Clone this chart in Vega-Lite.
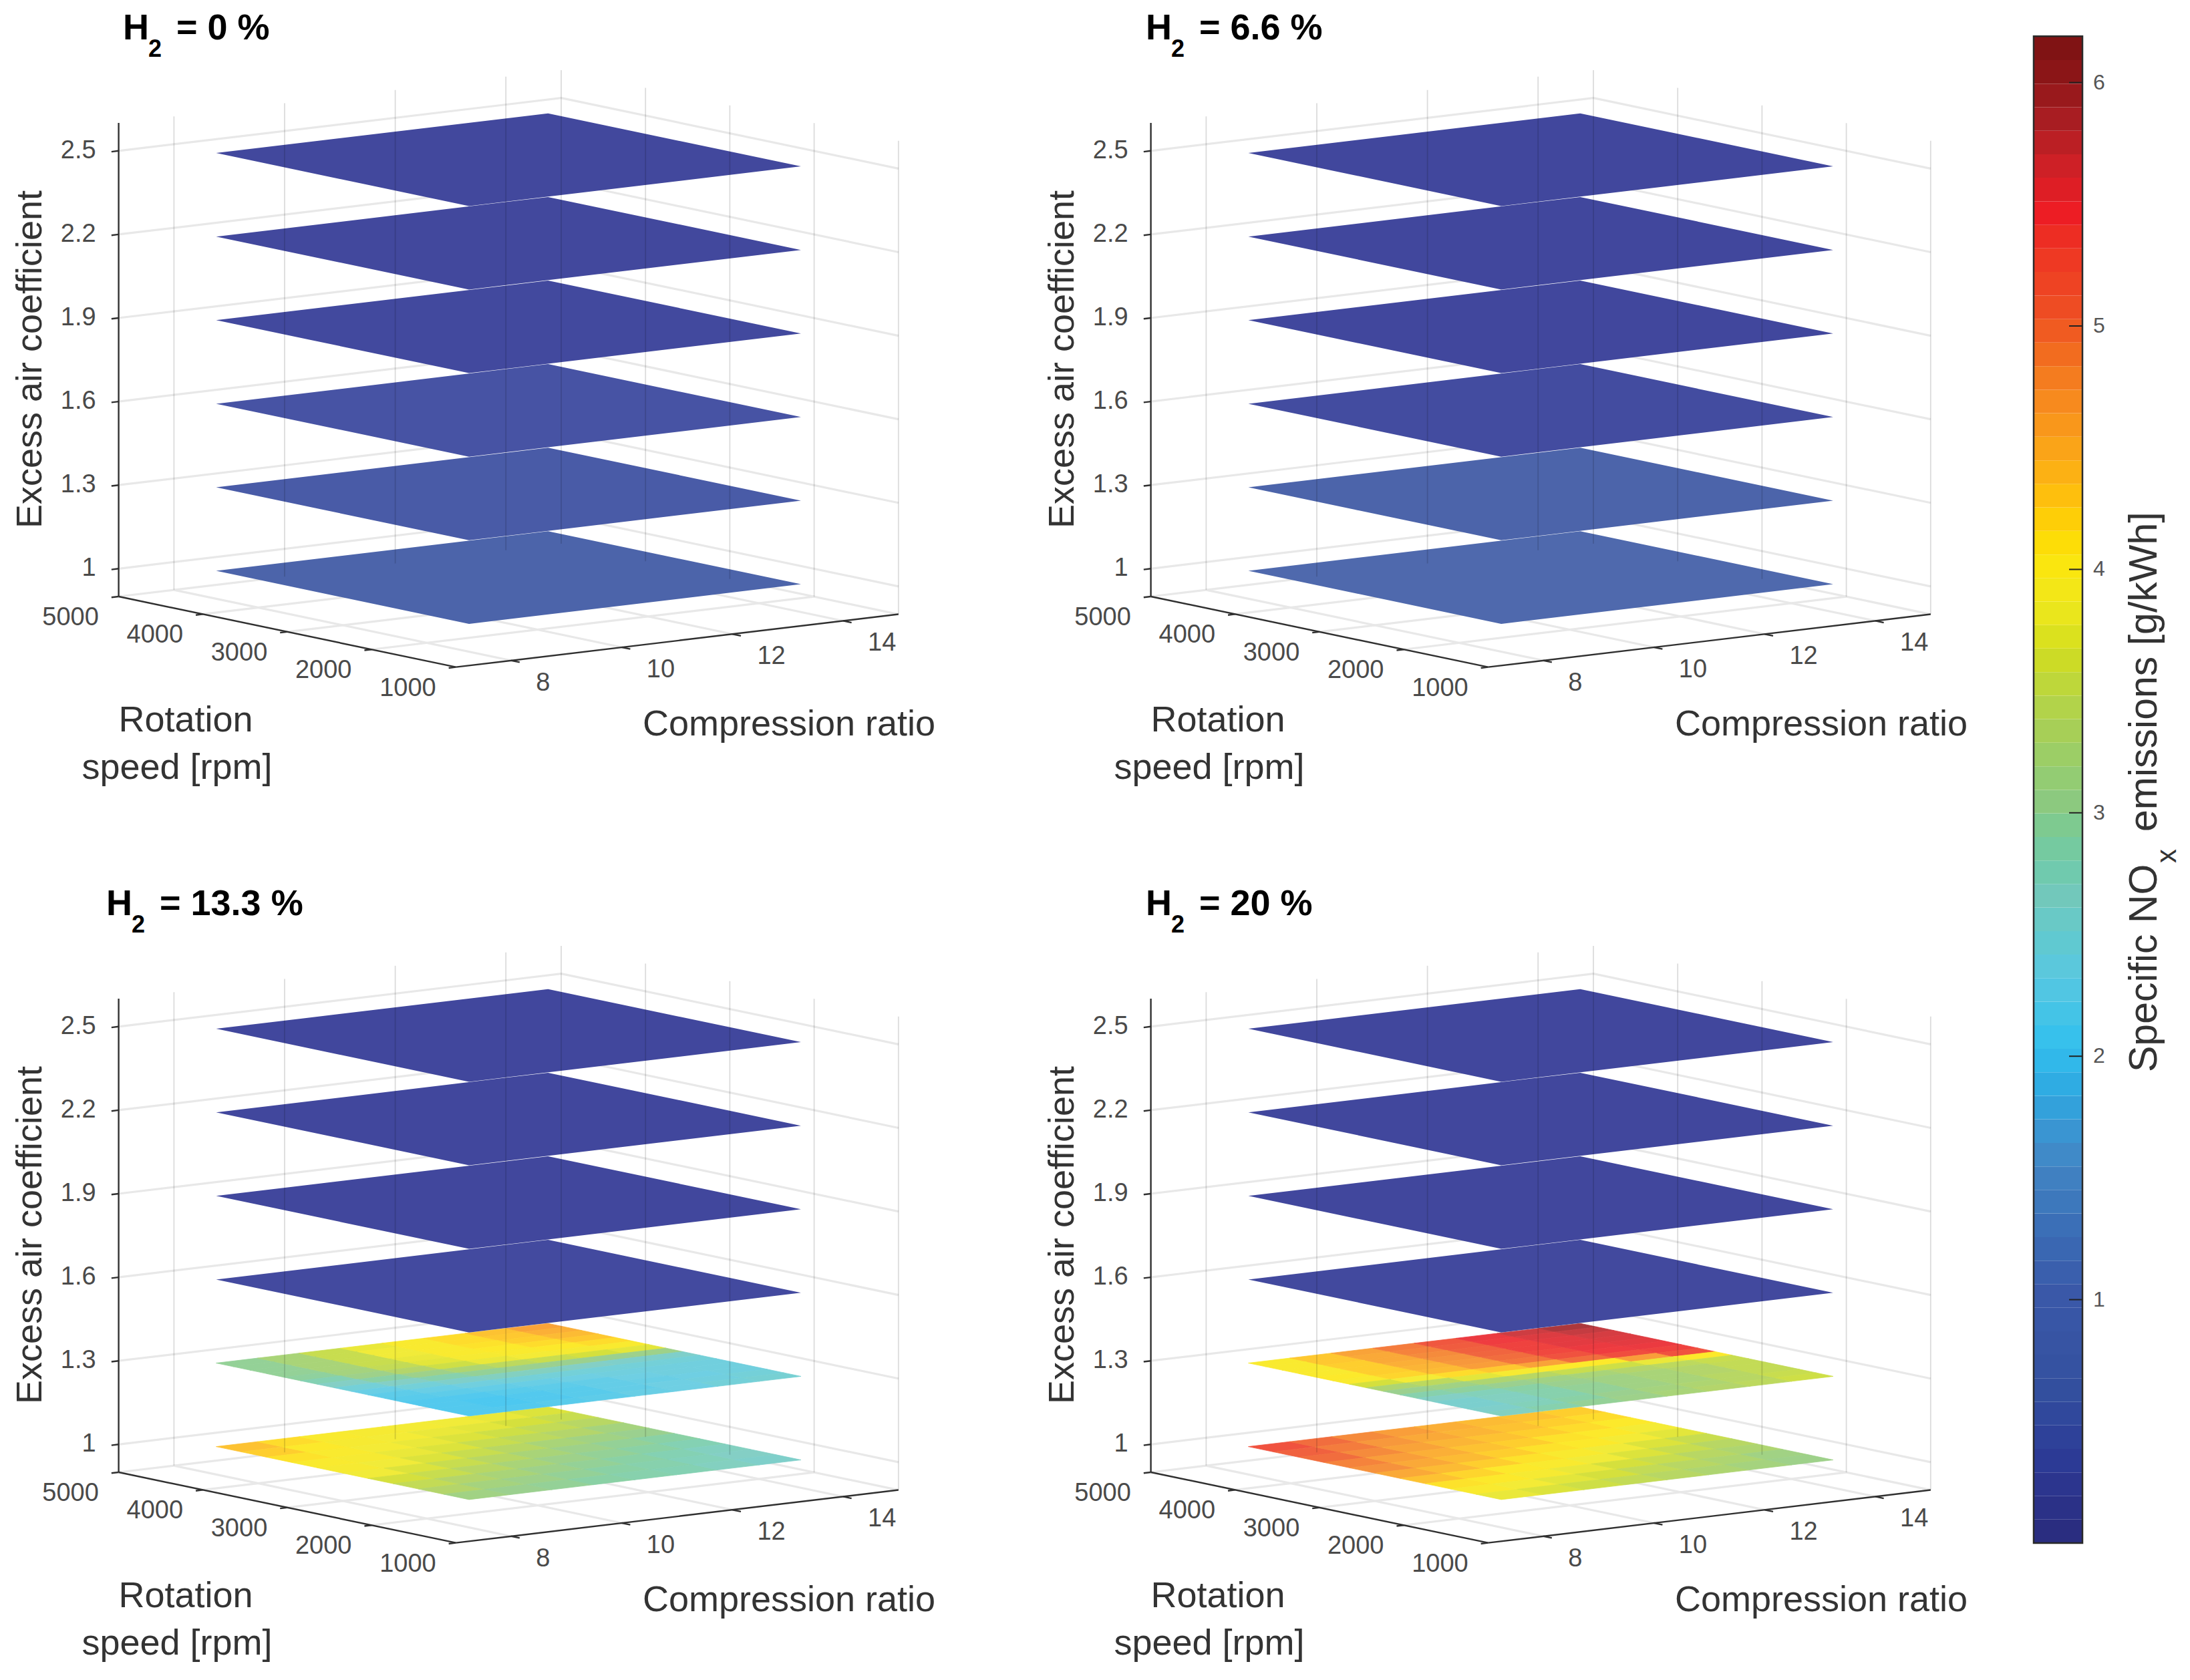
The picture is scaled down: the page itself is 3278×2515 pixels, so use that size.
{
"$schema":"https://vega.github.io/schema/vega-lite/v6.json",
"width":3278,"height":2515,"padding":0,"autosize":{"type":"fit","contains":"padding"},
"background":"white","config":{"view":{"stroke":null},"text":{"font":"Liberation Sans"}},
"datasets":{
"thick":[
{"h":[0,6.6,13.3,20],"c":7,"r":5000,"l":1,"c2":15,"r2":5000,"l2":1},
{"h":[0,6.6,13.3,20],"c":7,"r":5000,"l":1.3,"c2":15,"r2":5000,"l2":1.3},
{"h":[0,6.6,13.3,20],"c":7,"r":5000,"l":1.6,"c2":15,"r2":5000,"l2":1.6},
{"h":[0,6.6,13.3,20],"c":7,"r":5000,"l":1.9,"c2":15,"r2":5000,"l2":1.9},
{"h":[0,6.6,13.3,20],"c":7,"r":5000,"l":2.2,"c2":15,"r2":5000,"l2":2.2},
{"h":[0,6.6,13.3,20],"c":7,"r":5000,"l":2.5,"c2":15,"r2":5000,"l2":2.5},
{"h":[0,6.6,13.3,20],"c":15,"r":5000,"l":1,"c2":15,"r2":1000,"l2":1},
{"h":[0,6.6,13.3,20],"c":15,"r":5000,"l":1.3,"c2":15,"r2":1000,"l2":1.3},
{"h":[0,6.6,13.3,20],"c":15,"r":5000,"l":1.6,"c2":15,"r2":1000,"l2":1.6},
{"h":[0,6.6,13.3,20],"c":15,"r":5000,"l":1.9,"c2":15,"r2":1000,"l2":1.9},
{"h":[0,6.6,13.3,20],"c":15,"r":5000,"l":2.2,"c2":15,"r2":1000,"l2":2.2},
{"h":[0,6.6,13.3,20],"c":15,"r":5000,"l":2.5,"c2":15,"r2":1000,"l2":2.5},
{"h":[0,6.6,13.3,20],"c":7,"r":5000,"l":0.9,"c2":15,"r2":5000,"l2":0.9},
{"h":[0,6.6,13.3,20],"c":7,"r":4000,"l":0.9,"c2":15,"r2":4000,"l2":0.9},
{"h":[0,6.6,13.3,20],"c":7,"r":3000,"l":0.9,"c2":15,"r2":3000,"l2":0.9},
{"h":[0,6.6,13.3,20],"c":7,"r":2000,"l":0.9,"c2":15,"r2":2000,"l2":0.9},
{"h":[0,6.6,13.3,20],"c":8,"r":5000,"l":0.9,"c2":8,"r2":1000,"l2":0.9},
{"h":[0,6.6,13.3,20],"c":10,"r":5000,"l":0.9,"c2":10,"r2":1000,"l2":0.9},
{"h":[0,6.6,13.3,20],"c":12,"r":5000,"l":0.9,"c2":12,"r2":1000,"l2":0.9},
{"h":[0,6.6,13.3,20],"c":14,"r":5000,"l":0.9,"c2":14,"r2":1000,"l2":0.9},
{"h":[0,6.6,13.3,20],"c":15,"r":5000,"l":0.9,"c2":15,"r2":1000,"l2":0.9}
],
"thin":[
{"h":[0,6.6,13.3,20],"c":8,"r":5000,"l":0.9,"c2":8,"r2":5000,"l2":2.6},
{"h":[0,6.6,13.3,20],"c":10,"r":5000,"l":0.9,"c2":10,"r2":5000,"l2":2.6},
{"h":[0,6.6,13.3,20],"c":12,"r":5000,"l":0.9,"c2":12,"r2":5000,"l2":2.6},
{"h":[0,6.6,13.3,20],"c":14,"r":5000,"l":0.9,"c2":14,"r2":5000,"l2":2.6},
{"h":[0,6.6,13.3,20],"c":15,"r":5000,"l":0.9,"c2":15,"r2":5000,"l2":2.6},
{"h":[0,6.6,13.3,20],"c":15,"r":4000,"l":0.9,"c2":15,"r2":4000,"l2":2.6},
{"h":[0,6.6,13.3,20],"c":15,"r":3000,"l":0.9,"c2":15,"r2":3000,"l2":2.6},
{"h":[0,6.6,13.3,20],"c":15,"r":2000,"l":0.9,"c2":15,"r2":2000,"l2":2.6},
{"h":[0,6.6,13.3,20],"c":15,"r":1000,"l":0.9,"c2":15,"r2":1000,"l2":2.6}
],
"dark":[
{"h":[0,6.6,13.3,20],"c":7,"r":5000,"l":0.9,"c2":7,"r2":5000,"l2":2.6},
{"h":[0,6.6,13.3,20],"c":7,"r":5000,"l":0.9,"c2":7,"r2":1000,"l2":0.9},
{"h":[0,6.6,13.3,20],"c":7,"r":1000,"l":0.9,"c2":15,"r2":1000,"l2":0.9},
{"h":[0,6.6,13.3,20],"c":7,"r":5000,"l":1,"c2":6.87,"r2":5000,"l2":1},
{"h":[0,6.6,13.3,20],"c":7,"r":5000,"l":1.3,"c2":6.87,"r2":5000,"l2":1.3},
{"h":[0,6.6,13.3,20],"c":7,"r":5000,"l":1.6,"c2":6.87,"r2":5000,"l2":1.6},
{"h":[0,6.6,13.3,20],"c":7,"r":5000,"l":1.9,"c2":6.87,"r2":5000,"l2":1.9},
{"h":[0,6.6,13.3,20],"c":7,"r":5000,"l":2.2,"c2":6.87,"r2":5000,"l2":2.2},
{"h":[0,6.6,13.3,20],"c":7,"r":5000,"l":2.5,"c2":6.87,"r2":5000,"l2":2.5},
{"h":[0,6.6,13.3,20],"c":7,"r":5000,"l":0.9,"c2":6.87,"r2":5000,"l2":0.9},
{"h":[0,6.6,13.3,20],"c":7,"r":4000,"l":0.9,"c2":6.87,"r2":4000,"l2":0.9},
{"h":[0,6.6,13.3,20],"c":7,"r":3000,"l":0.9,"c2":6.87,"r2":3000,"l2":0.9},
{"h":[0,6.6,13.3,20],"c":7,"r":2000,"l":0.9,"c2":6.87,"r2":2000,"l2":0.9},
{"h":[0,6.6,13.3,20],"c":7,"r":1000,"l":0.9,"c2":6.87,"r2":1000,"l2":0.9},
{"h":[0,6.6,13.3,20],"c":8,"r":1000,"l":0.9,"c2":8,"r2":900,"l2":0.9},
{"h":[0,6.6,13.3,20],"c":10,"r":1000,"l":0.9,"c2":10,"r2":900,"l2":0.9},
{"h":[0,6.6,13.3,20],"c":12,"r":1000,"l":0.9,"c2":12,"r2":900,"l2":0.9},
{"h":[0,6.6,13.3,20],"c":14,"r":1000,"l":0.9,"c2":14,"r2":900,"l2":0.9}
],
"flat":[
{"h":0,"l":1,"c":11,"r":3000,"n":0.55},{"h":0,"l":1.3,"c":11,"r":3000,"n":0.42},{"h":0,"l":1.6,"c":11,"r":3000,"n":0.3},{"h":0,"l":1.9,"c":11,"r":3000,"n":0.1},{"h":0,"l":2.2,"c":11,"r":3000,"n":0.08},{"h":0,"l":2.5,"c":11,"r":3000,"n":0.08},
{"h":6.6,"l":1,"c":11,"r":3000,"n":0.7},{"h":6.6,"l":1.3,"c":11,"r":3000,"n":0.55},{"h":6.6,"l":1.6,"c":11,"r":3000,"n":0.15},{"h":6.6,"l":1.9,"c":11,"r":3000,"n":0.06},{"h":6.6,"l":2.2,"c":11,"r":3000,"n":0.06},{"h":6.6,"l":2.5,"c":11,"r":3000,"n":0.06},
{"h":13.3,"l":1.6,"c":11,"r":3000,"n":0.12},{"h":13.3,"l":1.9,"c":11,"r":3000,"n":0.06},{"h":13.3,"l":2.2,"c":11,"r":3000,"n":0.05},{"h":13.3,"l":2.5,"c":11,"r":3000,"n":0.05},
{"h":20,"l":1.6,"c":11,"r":3000,"n":0.1},{"h":20,"l":1.9,"c":11,"r":3000,"n":0.05},{"h":20,"l":2.2,"c":11,"r":3000,"n":0.05},{"h":20,"l":2.5,"c":11,"r":3000,"n":0.05}
],
"lean":[
{"h":13.3,"l":1.3,"c":8.375,"r":4400,"n":2.95},{"h":13.3,"l":1.3,"c":9.125,"r":4400,"n":3.2},{"h":13.3,"l":1.3,"c":9.875,"r":4400,"n":3.5},{"h":13.3,"l":1.3,"c":10.625,"r":4400,"n":3.75},{"h":13.3,"l":1.3,"c":11.375,"r":4400,"n":3.95},{"h":13.3,"l":1.3,"c":12.125,"r":4400,"n":4.1},{"h":13.3,"l":1.3,"c":12.875,"r":4400,"n":4.3},{"h":13.3,"l":1.3,"c":13.625,"r":4400,"n":4.55},
{"h":13.3,"l":1.3,"c":8.375,"r":4200,"n":2.95},{"h":13.3,"l":1.3,"c":9.125,"r":4200,"n":3.2},{"h":13.3,"l":1.3,"c":9.875,"r":4200,"n":3.5},{"h":13.3,"l":1.3,"c":10.625,"r":4200,"n":3.8},{"h":13.3,"l":1.3,"c":11.375,"r":4200,"n":3.95},{"h":13.3,"l":1.3,"c":12.125,"r":4200,"n":4.1},{"h":13.3,"l":1.3,"c":12.875,"r":4200,"n":4.25},{"h":13.3,"l":1.3,"c":13.625,"r":4200,"n":4.45},
{"h":13.3,"l":1.3,"c":8.375,"r":4000,"n":2.95},{"h":13.3,"l":1.3,"c":9.125,"r":4000,"n":3.2},{"h":13.3,"l":1.3,"c":9.875,"r":4000,"n":3.5},{"h":13.3,"l":1.3,"c":10.625,"r":4000,"n":3.8},{"h":13.3,"l":1.3,"c":11.375,"r":4000,"n":3.95},{"h":13.3,"l":1.3,"c":12.125,"r":4000,"n":4.05},{"h":13.3,"l":1.3,"c":12.875,"r":4000,"n":4.2},{"h":13.3,"l":1.3,"c":13.625,"r":4000,"n":4.35},
{"h":13.3,"l":1.3,"c":8.375,"r":3800,"n":2.95},{"h":13.3,"l":1.3,"c":9.125,"r":3800,"n":3.2},{"h":13.3,"l":1.3,"c":9.875,"r":3800,"n":3.5},{"h":13.3,"l":1.3,"c":10.625,"r":3800,"n":3.75},{"h":13.3,"l":1.3,"c":11.375,"r":3800,"n":3.95},{"h":13.3,"l":1.3,"c":12.125,"r":3800,"n":4},{"h":13.3,"l":1.3,"c":12.875,"r":3800,"n":4.1},{"h":13.3,"l":1.3,"c":13.625,"r":3800,"n":4.25},
{"h":13.3,"l":1.3,"c":8.375,"r":3600,"n":2.9},{"h":13.3,"l":1.3,"c":9.125,"r":3600,"n":3.15},{"h":13.3,"l":1.3,"c":9.875,"r":3600,"n":3.45},{"h":13.3,"l":1.3,"c":10.625,"r":3600,"n":3.7},{"h":13.3,"l":1.3,"c":11.375,"r":3600,"n":3.9},{"h":13.3,"l":1.3,"c":12.125,"r":3600,"n":3.95},{"h":13.3,"l":1.3,"c":12.875,"r":3600,"n":4},{"h":13.3,"l":1.3,"c":13.625,"r":3600,"n":4.1},
{"h":13.3,"l":1.3,"c":8.375,"r":3400,"n":2.75},{"h":13.3,"l":1.3,"c":9.125,"r":3400,"n":3.05},{"h":13.3,"l":1.3,"c":9.875,"r":3400,"n":3.3},{"h":13.3,"l":1.3,"c":10.625,"r":3400,"n":3.55},{"h":13.3,"l":1.3,"c":11.375,"r":3400,"n":3.75},{"h":13.3,"l":1.3,"c":12.125,"r":3400,"n":3.85},{"h":13.3,"l":1.3,"c":12.875,"r":3400,"n":3.9},{"h":13.3,"l":1.3,"c":13.625,"r":3400,"n":3.95},
{"h":13.3,"l":1.3,"c":8.375,"r":3200,"n":2.6},{"h":13.3,"l":1.3,"c":9.125,"r":3200,"n":2.85},{"h":13.3,"l":1.3,"c":9.875,"r":3200,"n":3.05},{"h":13.3,"l":1.3,"c":10.625,"r":3200,"n":3.25},{"h":13.3,"l":1.3,"c":11.375,"r":3200,"n":3.4},{"h":13.3,"l":1.3,"c":12.125,"r":3200,"n":3.5},{"h":13.3,"l":1.3,"c":12.875,"r":3200,"n":3.6},{"h":13.3,"l":1.3,"c":13.625,"r":3200,"n":3.7},
{"h":13.3,"l":1.3,"c":8.375,"r":3000,"n":2.4},{"h":13.3,"l":1.3,"c":9.125,"r":3000,"n":2.6},{"h":13.3,"l":1.3,"c":9.875,"r":3000,"n":2.8},{"h":13.3,"l":1.3,"c":10.625,"r":3000,"n":2.95},{"h":13.3,"l":1.3,"c":11.375,"r":3000,"n":3},{"h":13.3,"l":1.3,"c":12.125,"r":3000,"n":3},{"h":13.3,"l":1.3,"c":12.875,"r":3000,"n":3},{"h":13.3,"l":1.3,"c":13.625,"r":3000,"n":3.05},
{"h":13.3,"l":1.3,"c":8.375,"r":2800,"n":2.25},{"h":13.3,"l":1.3,"c":9.125,"r":2800,"n":2.4},{"h":13.3,"l":1.3,"c":9.875,"r":2800,"n":2.55},{"h":13.3,"l":1.3,"c":10.625,"r":2800,"n":2.65},{"h":13.3,"l":1.3,"c":11.375,"r":2800,"n":2.65},{"h":13.3,"l":1.3,"c":12.125,"r":2800,"n":2.6},{"h":13.3,"l":1.3,"c":12.875,"r":2800,"n":2.55},{"h":13.3,"l":1.3,"c":13.625,"r":2800,"n":2.55},
{"h":13.3,"l":1.3,"c":8.375,"r":2600,"n":2.15},{"h":13.3,"l":1.3,"c":9.125,"r":2600,"n":2.25},{"h":13.3,"l":1.3,"c":9.875,"r":2600,"n":2.35},{"h":13.3,"l":1.3,"c":10.625,"r":2600,"n":2.4},{"h":13.3,"l":1.3,"c":11.375,"r":2600,"n":2.4},{"h":13.3,"l":1.3,"c":12.125,"r":2600,"n":2.4},{"h":13.3,"l":1.3,"c":12.875,"r":2600,"n":2.4},{"h":13.3,"l":1.3,"c":13.625,"r":2600,"n":2.4},
{"h":13.3,"l":1.3,"c":8.375,"r":2400,"n":2.1},{"h":13.3,"l":1.3,"c":9.125,"r":2400,"n":2.15},{"h":13.3,"l":1.3,"c":9.875,"r":2400,"n":2.2},{"h":13.3,"l":1.3,"c":10.625,"r":2400,"n":2.25},{"h":13.3,"l":1.3,"c":11.375,"r":2400,"n":2.3},{"h":13.3,"l":1.3,"c":12.125,"r":2400,"n":2.35},{"h":13.3,"l":1.3,"c":12.875,"r":2400,"n":2.35},{"h":13.3,"l":1.3,"c":13.625,"r":2400,"n":2.35},
{"h":13.3,"l":1.3,"c":8.375,"r":2200,"n":2.05},{"h":13.3,"l":1.3,"c":9.125,"r":2200,"n":2.05},{"h":13.3,"l":1.3,"c":9.875,"r":2200,"n":2.1},{"h":13.3,"l":1.3,"c":10.625,"r":2200,"n":2.15},{"h":13.3,"l":1.3,"c":11.375,"r":2200,"n":2.2},{"h":13.3,"l":1.3,"c":12.125,"r":2200,"n":2.3},{"h":13.3,"l":1.3,"c":12.875,"r":2200,"n":2.35},{"h":13.3,"l":1.3,"c":13.625,"r":2200,"n":2.35},
{"h":13.3,"l":1.3,"c":8.375,"r":2000,"n":2.05},{"h":13.3,"l":1.3,"c":9.125,"r":2000,"n":2},{"h":13.3,"l":1.3,"c":9.875,"r":2000,"n":2.05},{"h":13.3,"l":1.3,"c":10.625,"r":2000,"n":2.1},{"h":13.3,"l":1.3,"c":11.375,"r":2000,"n":2.2},{"h":13.3,"l":1.3,"c":12.125,"r":2000,"n":2.25},{"h":13.3,"l":1.3,"c":12.875,"r":2000,"n":2.3},{"h":13.3,"l":1.3,"c":13.625,"r":2000,"n":2.35},
{"h":13.3,"l":1.3,"c":8.375,"r":1800,"n":2.05},{"h":13.3,"l":1.3,"c":9.125,"r":1800,"n":2},{"h":13.3,"l":1.3,"c":9.875,"r":1800,"n":2.05},{"h":13.3,"l":1.3,"c":10.625,"r":1800,"n":2.1},{"h":13.3,"l":1.3,"c":11.375,"r":1800,"n":2.2},{"h":13.3,"l":1.3,"c":12.125,"r":1800,"n":2.3},{"h":13.3,"l":1.3,"c":12.875,"r":1800,"n":2.35},{"h":13.3,"l":1.3,"c":13.625,"r":1800,"n":2.4},
{"h":13.3,"l":1.3,"c":8.375,"r":1600,"n":2.05},{"h":13.3,"l":1.3,"c":9.125,"r":1600,"n":2.05},{"h":13.3,"l":1.3,"c":9.875,"r":1600,"n":2.1},{"h":13.3,"l":1.3,"c":10.625,"r":1600,"n":2.15},{"h":13.3,"l":1.3,"c":11.375,"r":1600,"n":2.25},{"h":13.3,"l":1.3,"c":12.125,"r":1600,"n":2.3},{"h":13.3,"l":1.3,"c":12.875,"r":1600,"n":2.4},{"h":13.3,"l":1.3,"c":13.625,"r":1600,"n":2.45},
{"h":20,"l":1.3,"c":8.375,"r":4400,"n":3.95},{"h":20,"l":1.3,"c":9.125,"r":4400,"n":4.25},{"h":20,"l":1.3,"c":9.875,"r":4400,"n":4.55},{"h":20,"l":1.3,"c":10.625,"r":4400,"n":4.85},{"h":20,"l":1.3,"c":11.375,"r":4400,"n":5.15},{"h":20,"l":1.3,"c":12.125,"r":4400,"n":5.45},{"h":20,"l":1.3,"c":12.875,"r":4400,"n":5.65},{"h":20,"l":1.3,"c":13.625,"r":4400,"n":5.85},
{"h":20,"l":1.3,"c":8.375,"r":4200,"n":3.95},{"h":20,"l":1.3,"c":9.125,"r":4200,"n":4.25},{"h":20,"l":1.3,"c":9.875,"r":4200,"n":4.5},{"h":20,"l":1.3,"c":10.625,"r":4200,"n":4.8},{"h":20,"l":1.3,"c":11.375,"r":4200,"n":5.1},{"h":20,"l":1.3,"c":12.125,"r":4200,"n":5.4},{"h":20,"l":1.3,"c":12.875,"r":4200,"n":5.55},{"h":20,"l":1.3,"c":13.625,"r":4200,"n":5.7},
{"h":20,"l":1.3,"c":8.375,"r":4000,"n":3.95},{"h":20,"l":1.3,"c":9.125,"r":4000,"n":4.2},{"h":20,"l":1.3,"c":9.875,"r":4000,"n":4.5},{"h":20,"l":1.3,"c":10.625,"r":4000,"n":4.75},{"h":20,"l":1.3,"c":11.375,"r":4000,"n":5.05},{"h":20,"l":1.3,"c":12.125,"r":4000,"n":5.35},{"h":20,"l":1.3,"c":12.875,"r":4000,"n":5.5},{"h":20,"l":1.3,"c":13.625,"r":4000,"n":5.6},
{"h":20,"l":1.3,"c":8.375,"r":3800,"n":3.95},{"h":20,"l":1.3,"c":9.125,"r":3800,"n":4.2},{"h":20,"l":1.3,"c":9.875,"r":3800,"n":4.45},{"h":20,"l":1.3,"c":10.625,"r":3800,"n":4.7},{"h":20,"l":1.3,"c":11.375,"r":3800,"n":5},{"h":20,"l":1.3,"c":12.125,"r":3800,"n":5.35},{"h":20,"l":1.3,"c":12.875,"r":3800,"n":5.5},{"h":20,"l":1.3,"c":13.625,"r":3800,"n":5.55},
{"h":20,"l":1.3,"c":8.375,"r":3600,"n":4},{"h":20,"l":1.3,"c":9.125,"r":3600,"n":4.2},{"h":20,"l":1.3,"c":9.875,"r":3600,"n":4.4},{"h":20,"l":1.3,"c":10.625,"r":3600,"n":4.65},{"h":20,"l":1.3,"c":11.375,"r":3600,"n":4.95},{"h":20,"l":1.3,"c":12.125,"r":3600,"n":5.3},{"h":20,"l":1.3,"c":12.875,"r":3600,"n":5.45},{"h":20,"l":1.3,"c":13.625,"r":3600,"n":5.5},
{"h":20,"l":1.3,"c":8.375,"r":3400,"n":3.95},{"h":20,"l":1.3,"c":9.125,"r":3400,"n":4.15},{"h":20,"l":1.3,"c":9.875,"r":3400,"n":4.35},{"h":20,"l":1.3,"c":10.625,"r":3400,"n":4.6},{"h":20,"l":1.3,"c":11.375,"r":3400,"n":4.9},{"h":20,"l":1.3,"c":12.125,"r":3400,"n":5.2},{"h":20,"l":1.3,"c":12.875,"r":3400,"n":5.4},{"h":20,"l":1.3,"c":13.625,"r":3400,"n":5.45},
{"h":20,"l":1.3,"c":8.375,"r":3200,"n":3.6},{"h":20,"l":1.3,"c":9.125,"r":3200,"n":3.85},{"h":20,"l":1.3,"c":9.875,"r":3200,"n":4.1},{"h":20,"l":1.3,"c":10.625,"r":3200,"n":4.25},{"h":20,"l":1.3,"c":11.375,"r":3200,"n":4.55},{"h":20,"l":1.3,"c":12.125,"r":3200,"n":4.95},{"h":20,"l":1.3,"c":12.875,"r":3200,"n":5.25},{"h":20,"l":1.3,"c":13.625,"r":3200,"n":5.35},
{"h":20,"l":1.3,"c":8.375,"r":3000,"n":3.25},{"h":20,"l":1.3,"c":9.125,"r":3000,"n":3.4},{"h":20,"l":1.3,"c":9.875,"r":3000,"n":3.7},{"h":20,"l":1.3,"c":10.625,"r":3000,"n":3.9},{"h":20,"l":1.3,"c":11.375,"r":3000,"n":4},{"h":20,"l":1.3,"c":12.125,"r":3000,"n":4},{"h":20,"l":1.3,"c":12.875,"r":3000,"n":4.6},{"h":20,"l":1.3,"c":13.625,"r":3000,"n":5.2},
{"h":20,"l":1.3,"c":8.375,"r":2800,"n":3},{"h":20,"l":1.3,"c":9.125,"r":2800,"n":3.1},{"h":20,"l":1.3,"c":9.875,"r":2800,"n":3.25},{"h":20,"l":1.3,"c":10.625,"r":2800,"n":3.35},{"h":20,"l":1.3,"c":11.375,"r":2800,"n":3.5},{"h":20,"l":1.3,"c":12.125,"r":2800,"n":3.55},{"h":20,"l":1.3,"c":12.875,"r":2800,"n":3.75},{"h":20,"l":1.3,"c":13.625,"r":2800,"n":4},
{"h":20,"l":1.3,"c":8.375,"r":2600,"n":2.8},{"h":20,"l":1.3,"c":9.125,"r":2600,"n":2.9},{"h":20,"l":1.3,"c":9.875,"r":2600,"n":3},{"h":20,"l":1.3,"c":10.625,"r":2600,"n":3.1},{"h":20,"l":1.3,"c":11.375,"r":2600,"n":3.2},{"h":20,"l":1.3,"c":12.125,"r":2600,"n":3.3},{"h":20,"l":1.3,"c":12.875,"r":2600,"n":3.4},{"h":20,"l":1.3,"c":13.625,"r":2600,"n":3.5},
{"h":20,"l":1.3,"c":8.375,"r":2400,"n":2.6},{"h":20,"l":1.3,"c":9.125,"r":2400,"n":2.7},{"h":20,"l":1.3,"c":9.875,"r":2400,"n":2.85},{"h":20,"l":1.3,"c":10.625,"r":2400,"n":3},{"h":20,"l":1.3,"c":11.375,"r":2400,"n":3.1},{"h":20,"l":1.3,"c":12.125,"r":2400,"n":3.2},{"h":20,"l":1.3,"c":12.875,"r":2400,"n":3.3},{"h":20,"l":1.3,"c":13.625,"r":2400,"n":3.45},
{"h":20,"l":1.3,"c":8.375,"r":2200,"n":2.5},{"h":20,"l":1.3,"c":9.125,"r":2200,"n":2.65},{"h":20,"l":1.3,"c":9.875,"r":2200,"n":2.8},{"h":20,"l":1.3,"c":10.625,"r":2200,"n":2.95},{"h":20,"l":1.3,"c":11.375,"r":2200,"n":3.1},{"h":20,"l":1.3,"c":12.125,"r":2200,"n":3.2},{"h":20,"l":1.3,"c":12.875,"r":2200,"n":3.3},{"h":20,"l":1.3,"c":13.625,"r":2200,"n":3.45},
{"h":20,"l":1.3,"c":8.375,"r":2000,"n":2.5},{"h":20,"l":1.3,"c":9.125,"r":2000,"n":2.65},{"h":20,"l":1.3,"c":9.875,"r":2000,"n":2.8},{"h":20,"l":1.3,"c":10.625,"r":2000,"n":2.95},{"h":20,"l":1.3,"c":11.375,"r":2000,"n":3.1},{"h":20,"l":1.3,"c":12.125,"r":2000,"n":3.2},{"h":20,"l":1.3,"c":12.875,"r":2000,"n":3.35},{"h":20,"l":1.3,"c":13.625,"r":2000,"n":3.45},
{"h":20,"l":1.3,"c":8.375,"r":1800,"n":2.55},{"h":20,"l":1.3,"c":9.125,"r":1800,"n":2.7},{"h":20,"l":1.3,"c":9.875,"r":1800,"n":2.85},{"h":20,"l":1.3,"c":10.625,"r":1800,"n":3},{"h":20,"l":1.3,"c":11.375,"r":1800,"n":3.15},{"h":20,"l":1.3,"c":12.125,"r":1800,"n":3.25},{"h":20,"l":1.3,"c":12.875,"r":1800,"n":3.35},{"h":20,"l":1.3,"c":13.625,"r":1800,"n":3.5},
{"h":20,"l":1.3,"c":8.375,"r":1600,"n":2.65},{"h":20,"l":1.3,"c":9.125,"r":1600,"n":2.8},{"h":20,"l":1.3,"c":9.875,"r":1600,"n":2.95},{"h":20,"l":1.3,"c":10.625,"r":1600,"n":3.05},{"h":20,"l":1.3,"c":11.375,"r":1600,"n":3.2},{"h":20,"l":1.3,"c":12.125,"r":1600,"n":3.3},{"h":20,"l":1.3,"c":12.875,"r":1600,"n":3.4},{"h":20,"l":1.3,"c":13.625,"r":1600,"n":3.55}
],
"rich":[
{"h":13.3,"l":1,"c":8.375,"r":4350,"n":4.3},{"h":13.3,"l":1,"c":9.125,"r":4350,"n":4.1},{"h":13.3,"l":1,"c":9.875,"r":4350,"n":3.95},{"h":13.3,"l":1,"c":10.625,"r":4350,"n":3.9},{"h":13.3,"l":1,"c":11.375,"r":4350,"n":3.85},{"h":13.3,"l":1,"c":12.125,"r":4350,"n":3.8},{"h":13.3,"l":1,"c":12.875,"r":4350,"n":3.75},{"h":13.3,"l":1,"c":13.625,"r":4350,"n":3.65},
{"h":13.3,"l":1,"c":8.375,"r":4050,"n":4.2},{"h":13.3,"l":1,"c":9.125,"r":4050,"n":4},{"h":13.3,"l":1,"c":9.875,"r":4050,"n":3.9},{"h":13.3,"l":1,"c":10.625,"r":4050,"n":3.85},{"h":13.3,"l":1,"c":11.375,"r":4050,"n":3.75},{"h":13.3,"l":1,"c":12.125,"r":4050,"n":3.7},{"h":13.3,"l":1,"c":12.875,"r":4050,"n":3.6},{"h":13.3,"l":1,"c":13.625,"r":4050,"n":3.5},
{"h":13.3,"l":1,"c":8.375,"r":3750,"n":4.05},{"h":13.3,"l":1,"c":9.125,"r":3750,"n":3.95},{"h":13.3,"l":1,"c":9.875,"r":3750,"n":3.85},{"h":13.3,"l":1,"c":10.625,"r":3750,"n":3.75},{"h":13.3,"l":1,"c":11.375,"r":3750,"n":3.65},{"h":13.3,"l":1,"c":12.125,"r":3750,"n":3.55},{"h":13.3,"l":1,"c":12.875,"r":3750,"n":3.45},{"h":13.3,"l":1,"c":13.625,"r":3750,"n":3.35},
{"h":13.3,"l":1,"c":8.375,"r":3450,"n":3.95},{"h":13.3,"l":1,"c":9.125,"r":3450,"n":3.9},{"h":13.3,"l":1,"c":9.875,"r":3450,"n":3.75},{"h":13.3,"l":1,"c":10.625,"r":3450,"n":3.65},{"h":13.3,"l":1,"c":11.375,"r":3450,"n":3.5},{"h":13.3,"l":1,"c":12.125,"r":3450,"n":3.4},{"h":13.3,"l":1,"c":12.875,"r":3450,"n":3.3},{"h":13.3,"l":1,"c":13.625,"r":3450,"n":3.15},
{"h":13.3,"l":1,"c":8.375,"r":3150,"n":3.9},{"h":13.3,"l":1,"c":9.125,"r":3150,"n":3.8},{"h":13.3,"l":1,"c":9.875,"r":3150,"n":3.65},{"h":13.3,"l":1,"c":10.625,"r":3150,"n":3.5},{"h":13.3,"l":1,"c":11.375,"r":3150,"n":3.35},{"h":13.3,"l":1,"c":12.125,"r":3150,"n":3.2},{"h":13.3,"l":1,"c":12.875,"r":3150,"n":3.1},{"h":13.3,"l":1,"c":13.625,"r":3150,"n":3},
{"h":13.3,"l":1,"c":8.375,"r":2850,"n":3.8},{"h":13.3,"l":1,"c":9.125,"r":2850,"n":3.65},{"h":13.3,"l":1,"c":9.875,"r":2850,"n":3.5},{"h":13.3,"l":1,"c":10.625,"r":2850,"n":3.35},{"h":13.3,"l":1,"c":11.375,"r":2850,"n":3.2},{"h":13.3,"l":1,"c":12.125,"r":2850,"n":3.05},{"h":13.3,"l":1,"c":12.875,"r":2850,"n":2.95},{"h":13.3,"l":1,"c":13.625,"r":2850,"n":2.85},
{"h":13.3,"l":1,"c":8.375,"r":2550,"n":3.6},{"h":13.3,"l":1,"c":9.125,"r":2550,"n":3.5},{"h":13.3,"l":1,"c":9.875,"r":2550,"n":3.35},{"h":13.3,"l":1,"c":10.625,"r":2550,"n":3.2},{"h":13.3,"l":1,"c":11.375,"r":2550,"n":3.05},{"h":13.3,"l":1,"c":12.125,"r":2550,"n":2.95},{"h":13.3,"l":1,"c":12.875,"r":2550,"n":2.85},{"h":13.3,"l":1,"c":13.625,"r":2550,"n":2.75},
{"h":13.3,"l":1,"c":8.375,"r":2250,"n":3.45},{"h":13.3,"l":1,"c":9.125,"r":2250,"n":3.3},{"h":13.3,"l":1,"c":9.875,"r":2250,"n":3.2},{"h":13.3,"l":1,"c":10.625,"r":2250,"n":3.05},{"h":13.3,"l":1,"c":11.375,"r":2250,"n":2.95},{"h":13.3,"l":1,"c":12.125,"r":2250,"n":2.85},{"h":13.3,"l":1,"c":12.875,"r":2250,"n":2.75},{"h":13.3,"l":1,"c":13.625,"r":2250,"n":2.65},
{"h":13.3,"l":1,"c":8.375,"r":1950,"n":3.3},{"h":13.3,"l":1,"c":9.125,"r":1950,"n":3.15},{"h":13.3,"l":1,"c":9.875,"r":1950,"n":3.05},{"h":13.3,"l":1,"c":10.625,"r":1950,"n":2.95},{"h":13.3,"l":1,"c":11.375,"r":1950,"n":2.85},{"h":13.3,"l":1,"c":12.125,"r":1950,"n":2.8},{"h":13.3,"l":1,"c":12.875,"r":1950,"n":2.7},{"h":13.3,"l":1,"c":13.625,"r":1950,"n":2.6},
{"h":13.3,"l":1,"c":8.375,"r":1650,"n":3.1},{"h":13.3,"l":1,"c":9.125,"r":1650,"n":3},{"h":13.3,"l":1,"c":9.875,"r":1650,"n":2.95},{"h":13.3,"l":1,"c":10.625,"r":1650,"n":2.85},{"h":13.3,"l":1,"c":11.375,"r":1650,"n":2.8},{"h":13.3,"l":1,"c":12.125,"r":1650,"n":2.75},{"h":13.3,"l":1,"c":12.875,"r":1650,"n":2.65},{"h":13.3,"l":1,"c":13.625,"r":1650,"n":2.55},
{"h":20,"l":1,"c":8.375,"r":4350,"n":5.2},{"h":20,"l":1,"c":9.125,"r":4350,"n":4.95},{"h":20,"l":1,"c":9.875,"r":4350,"n":4.75},{"h":20,"l":1,"c":10.625,"r":4350,"n":4.6},{"h":20,"l":1,"c":11.375,"r":4350,"n":4.45},{"h":20,"l":1,"c":12.125,"r":4350,"n":4.35},{"h":20,"l":1,"c":12.875,"r":4350,"n":4.3},{"h":20,"l":1,"c":13.625,"r":4350,"n":4.2},
{"h":20,"l":1,"c":8.375,"r":4050,"n":5.05},{"h":20,"l":1,"c":9.125,"r":4050,"n":4.85},{"h":20,"l":1,"c":9.875,"r":4050,"n":4.65},{"h":20,"l":1,"c":10.625,"r":4050,"n":4.5},{"h":20,"l":1,"c":11.375,"r":4050,"n":4.4},{"h":20,"l":1,"c":12.125,"r":4050,"n":4.3},{"h":20,"l":1,"c":12.875,"r":4050,"n":4.2},{"h":20,"l":1,"c":13.625,"r":4050,"n":4.1},
{"h":20,"l":1,"c":8.375,"r":3750,"n":4.95},{"h":20,"l":1,"c":9.125,"r":3750,"n":4.75},{"h":20,"l":1,"c":9.875,"r":3750,"n":4.55},{"h":20,"l":1,"c":10.625,"r":3750,"n":4.4},{"h":20,"l":1,"c":11.375,"r":3750,"n":4.3},{"h":20,"l":1,"c":12.125,"r":3750,"n":4.2},{"h":20,"l":1,"c":12.875,"r":3750,"n":4.1},{"h":20,"l":1,"c":13.625,"r":3750,"n":4},
{"h":20,"l":1,"c":8.375,"r":3450,"n":4.8},{"h":20,"l":1,"c":9.125,"r":3450,"n":4.6},{"h":20,"l":1,"c":9.875,"r":3450,"n":4.45},{"h":20,"l":1,"c":10.625,"r":3450,"n":4.3},{"h":20,"l":1,"c":11.375,"r":3450,"n":4.2},{"h":20,"l":1,"c":12.125,"r":3450,"n":4.05},{"h":20,"l":1,"c":12.875,"r":3450,"n":4},{"h":20,"l":1,"c":13.625,"r":3450,"n":3.85},
{"h":20,"l":1,"c":8.375,"r":3150,"n":4.7},{"h":20,"l":1,"c":9.125,"r":3150,"n":4.5},{"h":20,"l":1,"c":9.875,"r":3150,"n":4.35},{"h":20,"l":1,"c":10.625,"r":3150,"n":4.2},{"h":20,"l":1,"c":11.375,"r":3150,"n":4.05},{"h":20,"l":1,"c":12.125,"r":3150,"n":4},{"h":20,"l":1,"c":12.875,"r":3150,"n":3.85},{"h":20,"l":1,"c":13.625,"r":3150,"n":3.7},
{"h":20,"l":1,"c":8.375,"r":2850,"n":4.5},{"h":20,"l":1,"c":9.125,"r":2850,"n":4.35},{"h":20,"l":1,"c":9.875,"r":2850,"n":4.2},{"h":20,"l":1,"c":10.625,"r":2850,"n":4.05},{"h":20,"l":1,"c":11.375,"r":2850,"n":3.95},{"h":20,"l":1,"c":12.125,"r":2850,"n":3.8},{"h":20,"l":1,"c":12.875,"r":2850,"n":3.65},{"h":20,"l":1,"c":13.625,"r":2850,"n":3.5},
{"h":20,"l":1,"c":8.375,"r":2550,"n":4.3},{"h":20,"l":1,"c":9.125,"r":2550,"n":4.15},{"h":20,"l":1,"c":9.875,"r":2550,"n":4},{"h":20,"l":1,"c":10.625,"r":2550,"n":3.95},{"h":20,"l":1,"c":11.375,"r":2550,"n":3.8},{"h":20,"l":1,"c":12.125,"r":2550,"n":3.65},{"h":20,"l":1,"c":12.875,"r":2550,"n":3.5},{"h":20,"l":1,"c":13.625,"r":2550,"n":3.35},
{"h":20,"l":1,"c":8.375,"r":2250,"n":4.05},{"h":20,"l":1,"c":9.125,"r":2250,"n":4},{"h":20,"l":1,"c":9.875,"r":2250,"n":3.9},{"h":20,"l":1,"c":10.625,"r":2250,"n":3.75},{"h":20,"l":1,"c":11.375,"r":2250,"n":3.6},{"h":20,"l":1,"c":12.125,"r":2250,"n":3.5},{"h":20,"l":1,"c":12.875,"r":2250,"n":3.35},{"h":20,"l":1,"c":13.625,"r":2250,"n":3.25},
{"h":20,"l":1,"c":8.375,"r":1950,"n":3.95},{"h":20,"l":1,"c":9.125,"r":1950,"n":3.85},{"h":20,"l":1,"c":9.875,"r":1950,"n":3.7},{"h":20,"l":1,"c":10.625,"r":1950,"n":3.6},{"h":20,"l":1,"c":11.375,"r":1950,"n":3.45},{"h":20,"l":1,"c":12.125,"r":1950,"n":3.35},{"h":20,"l":1,"c":12.875,"r":1950,"n":3.25},{"h":20,"l":1,"c":13.625,"r":1950,"n":3.1},
{"h":20,"l":1,"c":8.375,"r":1650,"n":3.75},{"h":20,"l":1,"c":9.125,"r":1650,"n":3.65},{"h":20,"l":1,"c":9.875,"r":1650,"n":3.55},{"h":20,"l":1,"c":10.625,"r":1650,"n":3.45},{"h":20,"l":1,"c":11.375,"r":1650,"n":3.35},{"h":20,"l":1,"c":12.125,"r":1650,"n":3.25},{"h":20,"l":1,"c":12.875,"r":1650,"n":3.15},{"h":20,"l":1,"c":13.625,"r":1650,"n":3.05}
],
"bar":[
{"lo":0,"hi":0.097},{"lo":0.097,"hi":0.193},{"lo":0.193,"hi":0.29},{"lo":0.29,"hi":0.387},{"lo":0.387,"hi":0.484},{"lo":0.484,"hi":0.58},{"lo":0.58,"hi":0.677},{"lo":0.677,"hi":0.774},{"lo":0.774,"hi":0.87},{"lo":0.87,"hi":0.967},{"lo":0.967,"hi":1.064},{"lo":1.064,"hi":1.16},{"lo":1.16,"hi":1.257},{"lo":1.257,"hi":1.354},{"lo":1.354,"hi":1.451},{"lo":1.451,"hi":1.547},{"lo":1.547,"hi":1.644},{"lo":1.644,"hi":1.741},{"lo":1.741,"hi":1.837},{"lo":1.837,"hi":1.934},{"lo":1.934,"hi":2.031},{"lo":2.031,"hi":2.127},{"lo":2.127,"hi":2.224},{"lo":2.224,"hi":2.321},{"lo":2.321,"hi":2.418},{"lo":2.418,"hi":2.514},{"lo":2.514,"hi":2.611},{"lo":2.611,"hi":2.708},{"lo":2.708,"hi":2.804},{"lo":2.804,"hi":2.901},{"lo":2.901,"hi":2.998},{"lo":2.998,"hi":3.094},{"lo":3.094,"hi":3.191},{"lo":3.191,"hi":3.288},{"lo":3.288,"hi":3.385},{"lo":3.385,"hi":3.481},{"lo":3.481,"hi":3.578},{"lo":3.578,"hi":3.675},{"lo":3.675,"hi":3.771},{"lo":3.771,"hi":3.868},{"lo":3.868,"hi":3.965},{"lo":3.965,"hi":4.061},{"lo":4.061,"hi":4.158},{"lo":4.158,"hi":4.255},{"lo":4.255,"hi":4.352},{"lo":4.352,"hi":4.448},{"lo":4.448,"hi":4.545},{"lo":4.545,"hi":4.642},{"lo":4.642,"hi":4.738},{"lo":4.738,"hi":4.835},{"lo":4.835,"hi":4.932},{"lo":4.932,"hi":5.028},{"lo":5.028,"hi":5.125},{"lo":5.125,"hi":5.222},{"lo":5.222,"hi":5.319},{"lo":5.319,"hi":5.415},{"lo":5.415,"hi":5.512},{"lo":5.512,"hi":5.609},{"lo":5.609,"hi":5.705},{"lo":5.705,"hi":5.802},{"lo":5.802,"hi":5.899},{"lo":5.899,"hi":5.995},{"lo":5.995,"hi":6.092},{"lo":6.092,"hi":6.19}
]
},
"encoding":{
"x":{"field":"X","type":"quantitative","axis":null,"scale":{"domain":[0,3278],"nice":false,"zero":false}},
"y":{"field":"Y","type":"quantitative","axis":null,"scale":{"domain":[2515,0],"nice":false,"zero":false}}
},
"resolve":{"scale":{"fill":"independent","stroke":"independent"}},
"layer":[
{"data":{"name":"thick"},"mark":{"type":"rule","color":"#e8e8e8","strokeWidth":3.2},
"transform":[{"flatten":["h"]},
{"calculate":"(datum.h==6.6||datum.h==20?1545:0)+177.6+(datum.c-7)*82.8+(5000-datum.r)*0.1262","as":"X"},
{"calculate":"(datum.h>=13?1311:0)+893-(datum.c-7)*9.89+(5000-datum.r)*0.02642-(datum.l-0.9)*417","as":"Y"},
{"calculate":"(datum.h==6.6||datum.h==20?1545:0)+177.6+(datum.c2-7)*82.8+(5000-datum.r2)*0.1262","as":"X2"},
{"calculate":"(datum.h>=13?1311:0)+893-(datum.c2-7)*9.89+(5000-datum.r2)*0.02642-(datum.l2-0.9)*417","as":"Y2"}],
"encoding":{"x2":{"field":"X2"},"y2":{"field":"Y2"}}},
{"data":{"name":"rich"},"mark":{"type":"point","filled":true,"size":4,"opacity":1,"strokeWidth":0.8,"shape":"M-49.98,-0.25L12.12,-7.67L49.98,0.25L-12.12,7.67Z"},
"transform":[
{"calculate":"(datum.h==6.6||datum.h==20?1545:0)+177.6+(datum.c-7)*82.8+(5000-datum.r)*0.1262","as":"X"},
{"calculate":"(datum.h>=13?1311:0)+893-(datum.c-7)*9.89+(5000-datum.r)*0.02642-(datum.l-0.9)*417","as":"Y"}],
"encoding":{
"fill":{"field":"n","type":"quantitative","legend":null,"scale":{"domain":[0,0.3,0.6,1,1.5,1.8,2,2.3,2.6,3,3.3,3.6,3.8,4,4.4,4.7,5,5.42,5.62,5.8,6,6.19],"range":["#40449b","#4753a4","#4e67ab","#536eb4","#5a94cb","#4ab3e4","#4dc8f0","#6fcfe3","#84cfc5","#9bd08f","#b4d56b","#d5e03d","#f1eb39","#fce92b","#fbb536","#f6923d","#f0653f","#ef3940","#d23d42","#b33a3f","#993335","#872f2f"]}},
"stroke":{"field":"n","type":"quantitative","legend":null,"scale":{"domain":[0,0.3,0.6,1,1.5,1.8,2,2.3,2.6,3,3.3,3.6,3.8,4,4.4,4.7,5,5.42,5.62,5.8,6,6.19],"range":["#40449b","#4753a4","#4e67ab","#536eb4","#5a94cb","#4ab3e4","#4dc8f0","#6fcfe3","#84cfc5","#9bd08f","#b4d56b","#d5e03d","#f1eb39","#fce92b","#fbb536","#f6923d","#f0653f","#ef3940","#d23d42","#b33a3f","#993335","#872f2f"]}}}},
{"data":{"name":"lean"},"mark":{"type":"point","filled":true,"size":4,"opacity":1,"strokeWidth":0.8,"shape":"M-43.67,1.07L18.43,-6.35L43.67,-1.07L-18.43,6.35Z"},
"transform":[
{"calculate":"(datum.h==6.6||datum.h==20?1545:0)+177.6+(datum.c-7)*82.8+(5000-datum.r)*0.1262","as":"X"},
{"calculate":"(datum.h>=13?1311:0)+893-(datum.c-7)*9.89+(5000-datum.r)*0.02642-(datum.l-0.9)*417","as":"Y"}],
"encoding":{
"fill":{"field":"n","type":"quantitative","legend":null,"scale":{"domain":[0,0.3,0.6,1,1.5,1.8,2,2.3,2.6,3,3.3,3.6,3.8,4,4.4,4.7,5,5.42,5.62,5.8,6,6.19],"range":["#40449b","#4753a4","#4e67ab","#536eb4","#5a94cb","#4ab3e4","#4dc8f0","#6fcfe3","#84cfc5","#9bd08f","#b4d56b","#d5e03d","#f1eb39","#fce92b","#fbb536","#f6923d","#f0653f","#ef3940","#d23d42","#b33a3f","#993335","#872f2f"]}},
"stroke":{"field":"n","type":"quantitative","legend":null,"scale":{"domain":[0,0.3,0.6,1,1.5,1.8,2,2.3,2.6,3,3.3,3.6,3.8,4,4.4,4.7,5,5.42,5.62,5.8,6,6.19],"range":["#40449b","#4753a4","#4e67ab","#536eb4","#5a94cb","#4ab3e4","#4dc8f0","#6fcfe3","#84cfc5","#9bd08f","#b4d56b","#d5e03d","#f1eb39","#fce92b","#fbb536","#f6923d","#f0653f","#ef3940","#d23d42","#b33a3f","#993335","#872f2f"]}}}},
{"data":{"name":"flat"},"mark":{"type":"point","filled":true,"size":4,"opacity":1,"strokeWidth":0,"shape":"M-437.7,-9.96L59.1,-69.3L437.7,9.96L-59.1,69.3Z"},
"transform":[
{"calculate":"(datum.h==6.6||datum.h==20?1545:0)+177.6+(datum.c-7)*82.8+(5000-datum.r)*0.1262","as":"X"},
{"calculate":"(datum.h>=13?1311:0)+893-(datum.c-7)*9.89+(5000-datum.r)*0.02642-(datum.l-0.9)*417","as":"Y"}],
"encoding":{
"fill":{"field":"n","type":"quantitative","legend":null,"scale":{"domain":[0,0.3,0.6,1,1.5,1.8,2,2.3,2.6,3,3.3,3.6,3.8,4,4.4,4.7,5,5.42,5.62,5.8,6,6.19],"range":["#40449b","#4753a4","#4e67ab","#536eb4","#5a94cb","#4ab3e4","#4dc8f0","#6fcfe3","#84cfc5","#9bd08f","#b4d56b","#d5e03d","#f1eb39","#fce92b","#fbb536","#f6923d","#f0653f","#ef3940","#d23d42","#b33a3f","#993335","#872f2f"]}}}},
{"data":{"name":"thin"},"mark":{"type":"rule","color":"#000000","opacity":0.14,"strokeWidth":1.8},
"transform":[{"flatten":["h"]},
{"calculate":"(datum.h==6.6||datum.h==20?1545:0)+177.6+(datum.c-7)*82.8+(5000-datum.r)*0.1262","as":"X"},
{"calculate":"(datum.h>=13?1311:0)+893-(datum.c-7)*9.89+(5000-datum.r)*0.02642-(datum.l-0.9)*417","as":"Y"},
{"calculate":"(datum.h==6.6||datum.h==20?1545:0)+177.6+(datum.c2-7)*82.8+(5000-datum.r2)*0.1262","as":"X2"},
{"calculate":"(datum.h>=13?1311:0)+893-(datum.c2-7)*9.89+(5000-datum.r2)*0.02642-(datum.l2-0.9)*417","as":"Y2"}],
"encoding":{"x2":{"field":"X2"},"y2":{"field":"Y2"}}},
{"data":{"name":"dark"},"mark":{"type":"rule","color":"#303030","strokeWidth":2.4},
"transform":[{"flatten":["h"]},
{"calculate":"(datum.h==6.6||datum.h==20?1545:0)+177.6+(datum.c-7)*82.8+(5000-datum.r)*0.1262","as":"X"},
{"calculate":"(datum.h>=13?1311:0)+893-(datum.c-7)*9.89+(5000-datum.r)*0.02642-(datum.l-0.9)*417","as":"Y"},
{"calculate":"(datum.h==6.6||datum.h==20?1545:0)+177.6+(datum.c2-7)*82.8+(5000-datum.r2)*0.1262","as":"X2"},
{"calculate":"(datum.h>=13?1311:0)+893-(datum.c2-7)*9.89+(5000-datum.r2)*0.02642-(datum.l2-0.9)*417","as":"Y2"}],
"encoding":{"x2":{"field":"X2"},"y2":{"field":"Y2"}}},
{"data":{"values":[{"h":[0,6.6,13.3,20],"t":"1","l":1},{"h":[0,6.6,13.3,20],"t":"1.3","l":1.3},{"h":[0,6.6,13.3,20],"t":"1.6","l":1.6},{"h":[0,6.6,13.3,20],"t":"1.9","l":1.9},{"h":[0,6.6,13.3,20],"t":"2.2","l":2.2},{"h":[0,6.6,13.3,20],"t":"2.5","l":2.5}]},
"mark":{"type":"text","fontSize":38,"color":"#4a4a4a","align":"right","baseline":"middle","dx":-34},
"transform":[{"flatten":["h"]},
{"calculate":"(datum.h==6.6||datum.h==20?1545:0)+177.6","as":"X"},
{"calculate":"(datum.h>=13?1311:0)+893-(datum.l-0.9)*417","as":"Y"}],
"encoding":{"text":{"field":"t"}}},
{"data":{"values":[{"h":[0,6.6,13.3,20],"t":"1000","r":1000},{"h":[0,6.6,13.3,20],"t":"2000","r":2000},{"h":[0,6.6,13.3,20],"t":"3000","r":3000},{"h":[0,6.6,13.3,20],"t":"4000","r":4000},{"h":[0,6.6,13.3,20],"t":"5000","r":5000}]},
"mark":{"type":"text","fontSize":38,"color":"#4a4a4a","align":"center","baseline":"middle","dx":-72,"dy":32},
"transform":[{"flatten":["h"]},
{"calculate":"(datum.h==6.6||datum.h==20?1545:0)+177.6+(5000-datum.r)*0.1262","as":"X"},
{"calculate":"(datum.h>=13?1311:0)+893+(5000-datum.r)*0.02642","as":"Y"}],
"encoding":{"text":{"field":"t"}}},
{"data":{"values":[{"h":[0,6.6,13.3,20],"t":"8","c":8},{"h":[0,6.6,13.3,20],"t":"10","c":10},{"h":[0,6.6,13.3,20],"t":"12","c":12},{"h":[0,6.6,13.3,20],"t":"14","c":14}]},
"mark":{"type":"text","fontSize":38,"color":"#4a4a4a","align":"left","baseline":"middle","dx":37,"dy":34},
"transform":[{"flatten":["h"]},
{"calculate":"(datum.h==6.6||datum.h==20?1545:0)+177.6+(datum.c-7)*82.8+504.8","as":"X"},
{"calculate":"(datum.h>=13?1311:0)+893-(datum.c-7)*9.89+105.7","as":"Y"}],
"encoding":{"text":{"field":"t"}}},
{"data":{"values":[{"h":[0,6.6,13.3,20],"t":"Rotation","k":0},{"h":[0,6.6,13.3,20],"t":"speed [rpm]","k":1},{"h":[0,6.6,13.3,20],"t":"Compression ratio","k":2}]},
"mark":{"type":"text","fontSize":54,"color":"#333333","align":"center","baseline":"middle"},
"transform":[{"flatten":["h"]},
{"calculate":"(datum.h==6.6||datum.h==20?1545:0)+[278,265,1181][datum.k]","as":"X"},
{"calculate":"(datum.h>=13?1311:0)+[1079,1150,1085][datum.k]","as":"Y"}],
"encoding":{"text":{"field":"t"}}},
{"data":{"values":[{"h":[0,6.6,13.3,20],"t":"Excess air coefficient"}]},
"mark":{"type":"text","fontSize":54,"color":"#333333","align":"center","baseline":"alphabetic","angle":270},
"transform":[{"flatten":["h"]},
{"calculate":"(datum.h==6.6||datum.h==20?1545:0)+62","as":"X"},
{"calculate":"(datum.h>=13?1311:0)+538","as":"Y"}],
"encoding":{"text":{"field":"t"}}},
{"data":{"values":[{"h":0,"t":"H"},{"h":6.6,"t":"H"},{"h":13.3,"t":"H"},{"h":20,"t":"H"},{"h":0,"t":"= 0 %"},{"h":6.6,"t":"= 6.6 %"},{"h":13.3,"t":"= 13.3 %"},{"h":20,"t":"= 20 %"}]},
"mark":{"type":"text","fontSize":54,"fontWeight":"bold","color":"#000000","align":"left","baseline":"alphabetic"},
"transform":[
{"calculate":"(datum.h==0?184:datum.h==13.3?159:1715)+(datum.t=='H'?0:80)","as":"X"},
{"calculate":"(datum.h>=13?1311:0)+59","as":"Y"}],
"encoding":{"text":{"field":"t"}}},
{"data":{"values":[{"h":0,"t":"2"},{"h":6.6,"t":"2"},{"h":13.3,"t":"2"},{"h":20,"t":"2"}]},
"mark":{"type":"text","fontSize":36,"fontWeight":"bold","color":"#000000","align":"left","baseline":"alphabetic"},
"transform":[
{"calculate":"(datum.h==0?184:datum.h==13.3?159:1715)+38","as":"X"},
{"calculate":"(datum.h>=13?1311:0)+85","as":"Y"}],
"encoding":{"text":{"field":"t"}}},
{"data":{"name":"bar"},"mark":{"type":"rect"},
"transform":[
{"calculate":"3044","as":"X"},{"calculate":"3117","as":"X2"},
{"calculate":"2310-datum.lo*364.4","as":"Y"},{"calculate":"2310-datum.hi*364.4","as":"Y2"}],
"encoding":{"x2":{"field":"X2"},"y2":{"field":"Y2"},
"fill":{"field":"lo","type":"quantitative","legend":null,"scale":{"domain":[0,0.3,0.6,1,1.5,1.8,2,2.3,2.6,3,3.3,3.6,3.8,4,4.4,4.7,5,5.42,5.62,5.8,6,6.19],"range":["#2a2d80","#2c3a96","#34509f","#3a59a9","#4284c3","#2fa8e0","#33c0ee","#5ac8df","#72c8bc","#8cc97f","#a9cf55","#cfdc20","#efe81c","#fce60c","#fbaa18","#f58220","#ee4e23","#ed1c24","#cc2026","#a81d22","#8a1517","#751010"]}}}},
{"data":{"values":[{"lo":0,"hi":6.19}]},"mark":{"type":"rect","fillOpacity":0,"fill":"white","stroke":"#2a2a2a","strokeWidth":2.5},
"transform":[
{"calculate":"3044","as":"X"},{"calculate":"3117","as":"X2"},
{"calculate":"2310-datum.lo*364.4","as":"Y"},{"calculate":"2310-datum.hi*364.4","as":"Y2"}],
"encoding":{"x2":{"field":"X2"},"y2":{"field":"Y2"}}},
{"data":{"values":[{"t":"1","v":1},{"t":"2","v":2},{"t":"3","v":3},{"t":"4","v":4},{"t":"5","v":5},{"t":"6","v":6}]},"mark":{"type":"rule","color":"#222222","strokeWidth":2},
"transform":[{"calculate":"3097","as":"X"},{"calculate":"3117","as":"X2"},{"calculate":"2310-datum.v*364.4","as":"Y"}],
"encoding":{"x2":{"field":"X2"}}},
{"data":{"values":[{"t":"1","v":1},{"t":"2","v":2},{"t":"3","v":3},{"t":"4","v":4},{"t":"5","v":5},{"t":"6","v":6}]},"mark":{"type":"text","fontSize":32,"color":"#555555","align":"center","baseline":"middle"},
"transform":[{"calculate":"3142","as":"X"},{"calculate":"2310-datum.v*364.4","as":"Y"}],
"encoding":{"text":{"field":"t"}}},
{"data":{"values":[{"t":"Specific NO","k":0},{"t":"emissions [g/kWh]","k":1}]},"mark":{"type":"text","fontSize":59,"color":"#333333","align":"left","baseline":"alphabetic","angle":270},
"transform":[{"calculate":"3228","as":"X"},{"calculate":"[1605,1245][datum.k]","as":"Y"}],
"encoding":{"text":{"field":"t"}}},
{"data":{"values":[{"t":"x"}]},"mark":{"type":"text","fontSize":42,"color":"#333333","align":"left","baseline":"alphabetic","angle":270},
"transform":[{"calculate":"3257","as":"X"},{"calculate":"1292","as":"Y"}],
"encoding":{"text":{"field":"t"}}}
]
}
